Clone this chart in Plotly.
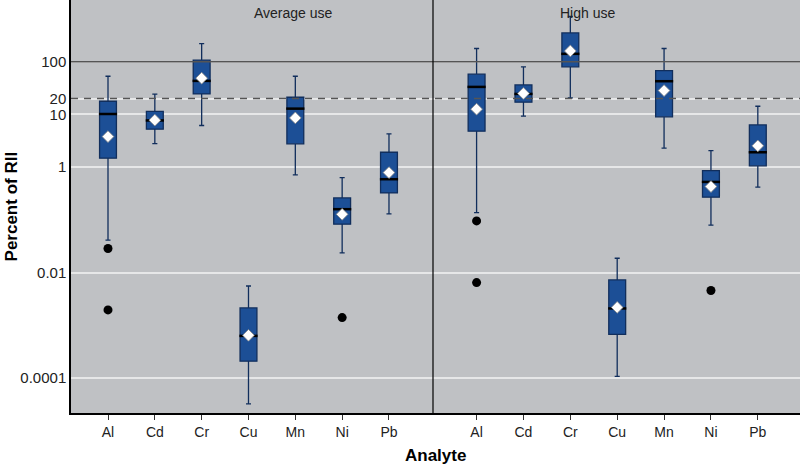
import plotly.graph_objects as go

analytes = ["Al", "Cd", "Cr", "Cu", "Mn", "Ni", "Pb"]

# Average use
avg_q1 = [1.48, 5.25, 24.5, 0.00021, 2.77, 0.083, 0.326]
avg_median = [10.2, 7.7, 43.3, 0.000634, 12.9, 0.16, 0.592]
avg_q3 = [17.8, 11.4, 107, 0.00215, 21.2, 0.262, 1.92]
avg_low = [0.0413, 2.81, 6.17, 0.0000326, 0.714, 0.0237, 0.13]
avg_high = [53, 24.2, 221, 0.0056, 53, 0.637, 4.28]
avg_mean = [3.8, 7.8, 48.7, 0.00065, 8.6, 0.128, 0.79]
avg_out_x = ["Al", "Al", "Ni"]
avg_out_y = [0.0288, 0.00197, 0.00141]

# High use
high_q1 = [4.81, 17.1, 80, 0.00068, 9.0, 0.27, 1.06]
high_median = [33.3, 24.5, 141, 0.0021, 42.7, 0.526, 1.92]
high_q3 = [58, 36.3, 352, 0.0073, 68, 0.865, 6.34]
high_low = [0.138, 9.27, 20.6, 0.000108, 2.29, 0.0795, 0.42]
high_high = [178, 79.7, 719, 0.0188, 178, 2.07, 14.3]
high_mean = [12.6, 25, 160, 0.0022, 28.4, 0.43, 2.54]
high_out_x = ["Al", "Al", "Ni"]
high_out_y = [0.096, 0.0065, 0.00459]

y_tickvals = [100, 20, 10, 1, 0.01, 0.0001]
y_ticktext = ["100", "20", "10", "1", "0.01", "0.0001"]

BOX_FILL = "#1c4f96"
BOX_LINE = "#112e5c"
FONT = "Liberation Sans Narrow, Arial Narrow, Liberation Sans, sans-serif"

fig = go.Figure()

panels = [
    ("x", avg_q1, avg_median, avg_q3, avg_low, avg_high, avg_mean, avg_out_x, avg_out_y),
    ("x2", high_q1, high_median, high_q3, high_low, high_high, high_mean, high_out_x, high_out_y),
]
for xa, q1, med, q3, lo, hi, mean, ox, oy in panels:
    fig.add_trace(go.Box(
        x=analytes, q1=q1, median=med, q3=q3, lowerfence=lo, upperfence=hi,
        fillcolor=BOX_FILL, line=dict(color=BOX_LINE, width=1.3),
        width=0.36, whiskerwidth=0.3, boxpoints=False,
        xaxis=xa, yaxis="y", showlegend=False,
    ))
    # thick black median bar
    fig.add_trace(go.Scatter(
        x=analytes, y=med, mode="markers",
        marker=dict(symbol="line-ew", size=13, color="black",
                    line=dict(color="black", width=2.5)),
        xaxis=xa, yaxis="y", showlegend=False,
    ))
    fig.add_trace(go.Scatter(
        x=analytes, y=mean, mode="markers",
        marker=dict(symbol="diamond", size=9, color="white",
                    line=dict(color="#888888", width=0.8)),
        xaxis=xa, yaxis="y", showlegend=False,
    ))
    fig.add_trace(go.Scatter(
        x=ox, y=oy, mode="markers",
        marker=dict(symbol="circle", size=9, color="black"),
        xaxis=xa, yaxis="y", showlegend=False,
    ))

split = 362 / 729

xcommon = dict(
    type="category", categoryorder="array", categoryarray=analytes,
    showgrid=False, zeroline=False, showline=True, linecolor="black", linewidth=2,
    ticks="outside", ticklen=5, tickcolor="#333", tickwidth=1,
    tickfont=dict(family=FONT, size=14, color="#222"), anchor="y",
)
fig.update_layout(
    width=800, height=468,
    margin=dict(l=71, r=0, t=0, b=55),
    paper_bgcolor="white", plot_bgcolor="#bfc1c4",
    font=dict(family=FONT, color="#222"),
    xaxis=dict(domain=[0, split], range=[-0.79, 6.94], **xcommon),
    xaxis2=dict(domain=[split, 1], range=[-0.93, 6.9], **xcommon),
    yaxis=dict(
        type="log", range=[-4.66, 3.17], tickvals=y_tickvals, ticktext=y_ticktext,
        showgrid=True, gridcolor="#e6e7e8", gridwidth=2, zeroline=False,
        showline=True, linecolor="black", linewidth=1.5, ticks="",
        tickfont=dict(family=FONT, size=15, color="#222"),
    ),
    shapes=[
        dict(type="line", xref="paper", yref="y", x0=0, x1=1, y0=100, y1=100,
             line=dict(color="#555555", width=1.5)),
        dict(type="line", xref="paper", yref="y", x0=0, x1=1, y0=20, y1=20,
             line=dict(color="#555555", width=1.5, dash="7px,6px")),
        dict(type="line", xref="paper", yref="paper", x0=split, x1=split, y0=0, y1=1,
             line=dict(color="black", width=1.2)),
    ],
    annotations=[
        dict(text="Average use", xref="paper", yref="paper", x=split / 2, y=0.993,
             yanchor="top", showarrow=False, font=dict(family=FONT, size=14, color="#222")),
        dict(text="High use", xref="paper", yref="paper", x=(1 + split) / 2, y=0.993,
             yanchor="top", showarrow=False, font=dict(family=FONT, size=14, color="#222")),
        dict(text="<b>Percent of RII</b>", xref="paper", yref="paper", x=-0.081, y=0.5,
             xanchor="center", yanchor="middle", textangle=-90, showarrow=False,
             font=dict(family=FONT, size=17, color="black")),
        dict(text="<b>Analyte</b>", xref="paper", yref="paper", x=0.5, y=-0.075,
             xanchor="center", yanchor="top", showarrow=False,
             font=dict(family=FONT, size=17, color="black")),
    ],
)

fig.write_html("out.html", config={"displayModeBar": False},
               post_script="document.body.style.margin='0';")
